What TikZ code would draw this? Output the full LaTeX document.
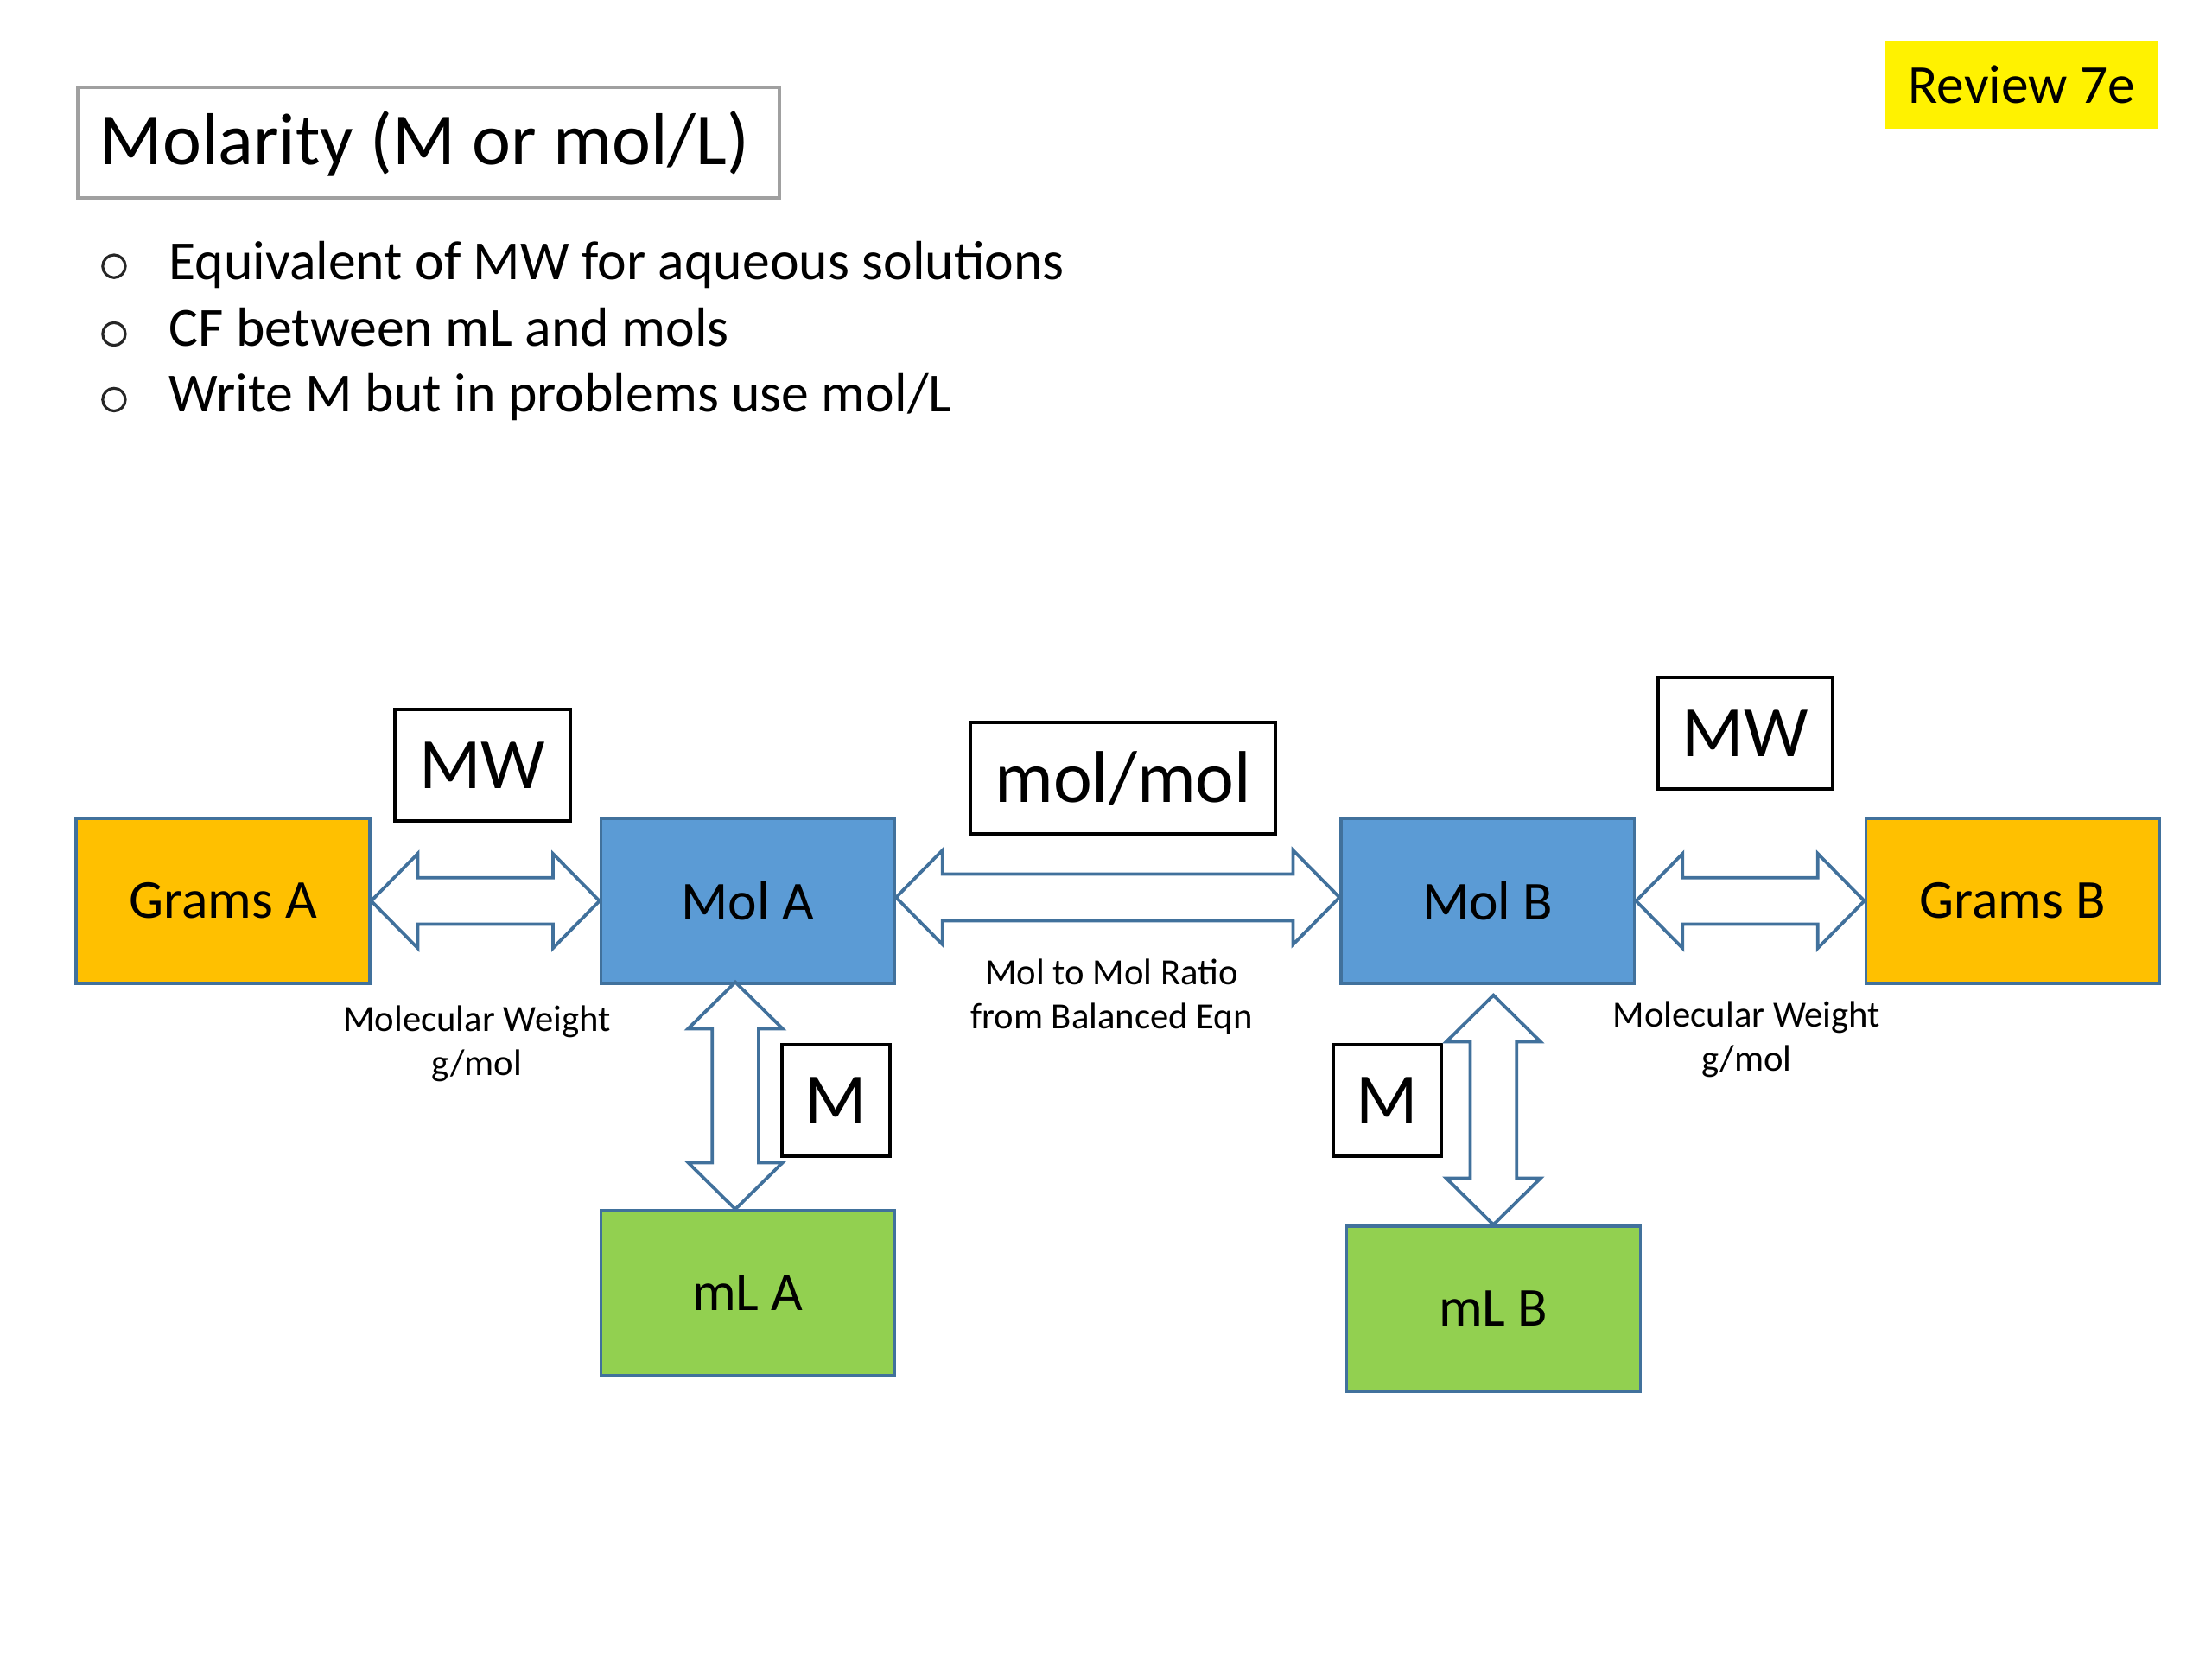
\documentclass[tikz,border=0pt]{standalone}
\usepackage{fontspec}
\setmainfont{Carlito}
\usetikzlibrary{calc}
\definecolor{orangeA}{HTML}{FFC000}
\definecolor{blueA}{HTML}{5B9BD5}
\definecolor{greenA}{HTML}{92D050}
\definecolor{edgeA}{HTML}{41719C}
\definecolor{titleedge}{HTML}{A0A0A0}
\def\arhl{0.328cm}\def\arhw{0.333cm}\def\arsw{0.164cm}
\newcommand{\hdarrow}[2]{\draw[dblarrow] let \p1=#1, \p2=#2 in (\x1,\y1) -- (\x1+\arhl,\y1+\arhw) -- (\x1+\arhl,\y1+\arsw) -- (\x2-\arhl,\y1+\arsw) -- (\x2-\arhl,\y1+\arhw) -- (\x2,\y1) -- (\x2-\arhl,\y1-\arhw) -- (\x2-\arhl,\y1-\arsw) -- (\x1+\arhl,\y1-\arsw) -- (\x1+\arhl,\y1-\arhw) -- cycle;}
\newcommand{\vdarrow}[2]{\draw[dblarrow] let \p1=#1, \p2=#2 in (\x1,\y1) -- (\x1+\arhw,\y1-\arhl) -- (\x1+\arsw,\y1-\arhl) -- (\x1+\arsw,\y2+\arhl) -- (\x1+\arhw,\y2+\arhl) -- (\x1,\y2) -- (\x1-\arhw,\y2+\arhl) -- (\x1-\arsw,\y2+\arhl) -- (\x1-\arsw,\y1-\arhl) -- (\x1-\arhw,\y1-\arhl) -- cycle;}
\begin{document}
\begin{tikzpicture}[x=0.00995cm,y=-0.00995cm,
  colbox/.style={draw=edgeA, line width=0.6pt, minimum width=2.07cm, minimum height=1.164cm, inner sep=0pt, font=\fontsize{11}{13}\selectfont},
  lblbox/.style={draw=black, line width=0.7pt, fill=white, minimum height=0.786cm, inner sep=0pt, font=\fontsize{14.5}{17}\selectfont},
  dblarrow/.style={draw=edgeA, line width=0.65pt, fill=white, line join=miter},
  note/.style={align=center, font=\fontsize{7.4}{8.8}\selectfont, inner sep=0pt},
  btext/.style={anchor=base west, inner sep=0pt, font=\fontsize{11.05}{13}\selectfont},
  bmark/.style={circle, draw=black!85, line width=0.55pt, minimum size=0.16cm, inner sep=0pt}]
\useasboundingbox[fill=white] (0,0) rectangle (1567.84,1175.88);

\node[draw=titleedge, line width=0.75pt, anchor=north west, minimum width=4.945cm, minimum height=0.778cm, inner sep=0pt] (title) at (54,60.6) {};
\node[anchor=base west, inner sep=0pt, font=\fontsize{14.75}{17}\selectfont] (titletext) at (70,116.4) {Molarity (M or mol/L)};
\node[fill=yellow, minimum width=1.93cm, minimum height=0.617cm, inner sep=0pt, font=\fontsize{11}{13}\selectfont] (rev) at (1433,60) {Review 7e};

\node[bmark] (b1) at (80.8,188.7) {};
\node[btext] (t1) at (119,198) {Equivalent of MW for aqueous solutions};
\node[bmark] (b2) at (80.8,236.7) {};
\node[btext] (t2) at (119,245) {CF between mL and mols};
\node[bmark] (b3) at (80.8,283.2) {};
\node[btext] (t3) at (119,292) {Write M but in problems use mol/L};

\node[colbox, fill=orangeA] (gA) at (158,638.5) {Grams A};
\node[colbox, fill=blueA] (molA) at (530,638.5) {Mol A};
\node[colbox, fill=greenA] (mlA) at (530,916.5) {mL A};
\node[colbox, fill=blueA] (molB) at (1054.5,638.5) {Mol B};
\node[colbox, fill=orangeA] (gB) at (1426.5,638.5) {Grams B};
\node[colbox, fill=greenA] (mlB) at (1058.5,927.5) {mL B};

\node[lblbox, minimum width=1.234cm] (mwA) at (342,542.5) {MW};
\node[lblbox, minimum width=2.149cm, font=\fontsize{14.7}{17}\selectfont] (mm) at (796,551.5) {mol/mol};
\node[lblbox, minimum width=1.234cm] (mwB) at (1237,519.5) {MW};
\node[lblbox, minimum width=0.766cm] (mA) at (592.5,779.8) {M};
\node[lblbox, minimum width=0.766cm] (mB) at (983.3,779.8) {M};

\node[note] (nA) at (338,739.5) {Molecular Weight\\g/mol};
\node[note] (nM) at (788,706.5) {Mol to Mol Ratio\\from Balanced Eqn};
\node[note] (nB) at (1238,736.5) {Molecular Weight\\g/mol};

\hdarrow{(gA.east)}{(molA.west)}
\hdarrow{([yshift=0.025cm]molA.east)}{([yshift=0.025cm]molB.west)}
\hdarrow{(molB.east)}{(gB.west)}
\vdarrow{($(molA.south)+(-8.8,-2)$)}{($(mlA.north)+(-8.8,0)$)}
\vdarrow{($(mlB.north |- molB.south)+(0,7.3)$)}{(mlB.north)}
\end{tikzpicture}
\end{document}
